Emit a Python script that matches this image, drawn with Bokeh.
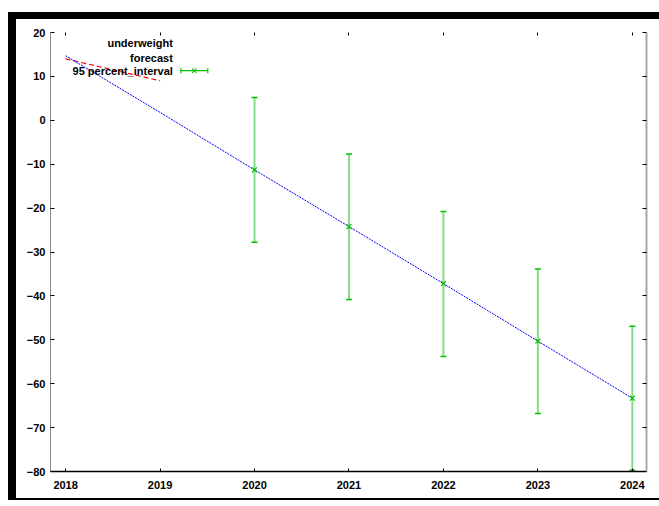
from bokeh.plotting import figure
from bokeh.layouts import column, row
from bokeh.models import (ColumnDataSource, Range1d, LinearAxis, FixedTicker,
                          Whisker, TeeHead, Label, Div)
from bokeh.embed import file_html
from bokeh.resources import INLINE

# --- data -------------------------------------------------------------
years = [2018, 2019, 2020, 2021, 2022, 2023, 2024]
forecast = [14.7, 1.8, -11.3, -24.2, -37.2, -50.3, -63.3]

underweight_years = [2018, 2019]
underweight = [14.0, 9.0]

interval_years = [2020, 2021, 2022, 2023, 2024]
interval_mid = [-11.3, -24.2, -37.2, -50.3, -63.3]
interval_lower = [-27.8, -40.8, -53.8, -66.8, -79.7]
interval_upper = [5.2, -7.7, -20.8, -33.9, -46.9]

x_ticks = [2018, 2019, 2020, 2021, 2022, 2023, 2024]
y_ticks = [20, 10, 0, -10, -20, -30, -40, -50, -60, -70, -80]

legend_labels = ["underweight", "forecast", "95 percent_interval"]

FONT = "Liberation Sans"
GREEN = "#00c000"
LIGHT_GREEN = "#86dc86"

p = figure(width=643, height=479, output_backend="svg", toolbar_location=None,
           x_range=Range1d(2017.84, 2024.15), y_range=Range1d(-80, 20),
           x_axis_location=None, y_axis_location=None,
           min_border_left=34, min_border_right=13,
           min_border_top=13, min_border_bottom=27, margin=0)
p.outline_line_color = None
p.xgrid.visible = False
p.ygrid.visible = False
p.background_fill_color = "white"
p.border_fill_color = "white"


def style_axis(ax, line_color, line_width, tick_len, show_labels):
    ax.axis_line_color = line_color
    ax.axis_line_width = line_width
    ax.major_tick_in = tick_len
    ax.major_tick_out = 0
    ax.minor_tick_line_color = None
    ax.major_tick_line_color = "black"
    ax.major_label_text_font = FONT
    ax.major_label_text_font_style = "bold"
    ax.major_label_text_font_size = "11px"
    ax.major_label_text_color = "black" if show_labels else None


left = LinearAxis(ticker=FixedTicker(ticks=y_ticks))
style_axis(left, "#8a8a8a", 1, 4, True)
left.major_label_standoff = 5
p.add_layout(left, "left")

bottom = LinearAxis(ticker=FixedTicker(ticks=x_ticks))
style_axis(bottom, "black", 1.5, 3, True)
bottom.major_label_standoff = 9
p.add_layout(bottom, "below")

top = LinearAxis(ticker=FixedTicker(ticks=x_ticks))
style_axis(top, None, 1, 3, False)
top.major_label_text_font_size = "0px"
top.major_label_standoff = 0
p.add_layout(top, "above")

right = LinearAxis(ticker=FixedTicker(ticks=y_ticks))
style_axis(right, "#a8a8a8", 2, 4, False)
right.major_label_text_font_size = "0px"
right.major_label_standoff = 0
p.add_layout(right, "right")

# --- series -----------------------------------------------------------
p.line(underweight_years, underweight, line_color="#ff0000", line_width=1.2,
       line_dash="5 3")
p.line(years, forecast, line_color="#0000ff", line_width=1, line_dash="2 1")

src = ColumnDataSource(dict(x=interval_years, mid=interval_mid,
                            lo=interval_lower, hi=interval_upper))
p.add_layout(Whisker(source=src, base="x", lower="lo", upper="hi",
                     dimension="height", line_color=LIGHT_GREEN, line_width=2,
                     upper_head=TeeHead(size=6, line_color=GREEN, line_width=1.5),
                     lower_head=TeeHead(size=6, line_color=GREEN, line_width=1.5)))
p.scatter("x", "mid", source=src, marker="x", size=7, line_color=GREEN,
          line_width=1.2)

# --- key --------------------------------------------------------------
key_x = 2019.135
key_y = [17.5, 14.3, 11.3]
for txt, ky in zip(legend_labels, key_y):
    p.add_layout(Label(x=key_x, y=ky, text=txt, text_align="right",
                       text_baseline="middle", text_font=FONT,
                       text_font_style="bold", text_font_size="11px",
                       text_color="black"))
sx0, sx1 = 2019.22, 2019.505
p.segment([sx0], [key_y[2]], [sx1], [key_y[2]], line_color=GREEN, line_width=1.2)
p.scatter([sx0, sx1], [key_y[2], key_y[2]], marker="dash", angle=1.5708,
          size=5, line_color=GREEN, line_width=1.2)
p.scatter([(sx0 + sx1) / 2], [key_y[2]], marker="x", size=6, line_color=GREEN,
          line_width=1.2)

# --- dark mat: bars along the top, left and bottom edges ---------------
top_bar = Div(text="", width=651, height=7, margin=0,
              styles={"background-color": "black"})
left_bar = Div(text="", width=8, height=479, margin=0,
               styles={"background-color": "black"})
bottom_bar = Div(text="", width=651, height=2, margin=0,
                 styles={"background-color": "black"})

page = column(top_bar, row(left_bar, p, margin=0, spacing=0), bottom_bar,
              margin=(12, 0, 0, 8), spacing=0)

open("out.html", "w").write(file_html(page, INLINE))
